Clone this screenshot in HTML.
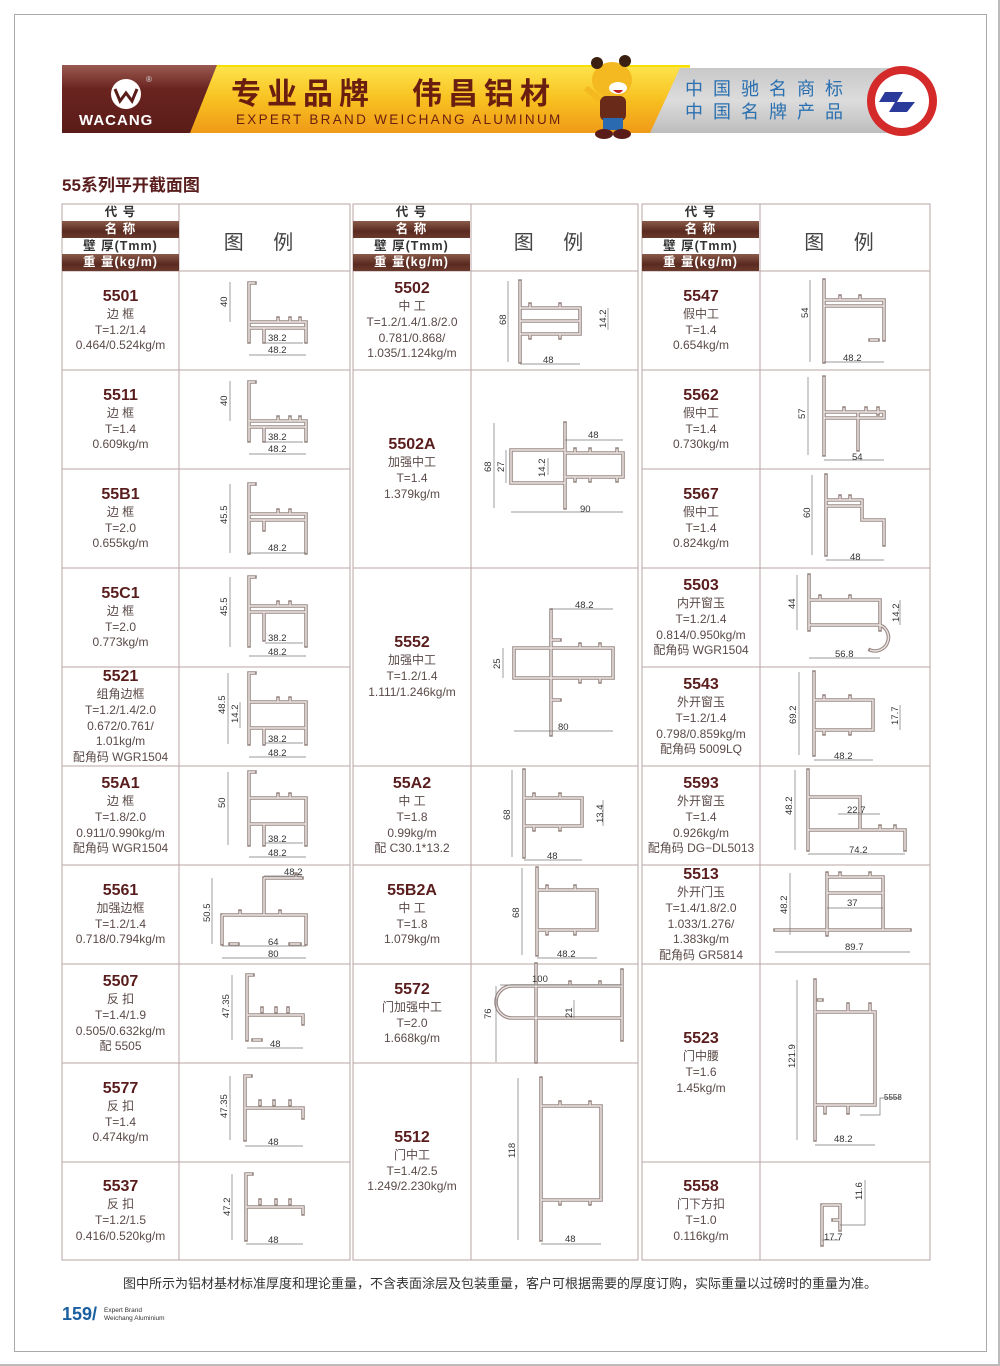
<!DOCTYPE html>
<html><head><meta charset="utf-8">
<style>
*{margin:0;padding:0;box-sizing:border-box}
body{width:1000px;height:1366px;position:relative;background:#fff;font-family:"Liberation Sans","Noto Sans CJK SC",sans-serif;overflow:hidden}
.a{position:absolute}
.cell{position:absolute;display:flex;flex-direction:column;justify-content:center;align-items:center;text-align:center;color:#5a4a48;font-size:12px;line-height:15.8px}
.cell b{font-size:16px;line-height:20px;color:#5a1d1d}
.hd{position:absolute;width:117px;font-weight:bold;font-size:12.5px;text-align:center;letter-spacing:1px;line-height:17px}
.dk{background:linear-gradient(#8a5a4a,#5a2a20 60%,#6a3a2e);color:#fff}
.lg{position:absolute;font-size:20px;color:#444;letter-spacing:12px;text-align:center}
svg text{font-family:"Liberation Sans",sans-serif;font-size:9.5px;fill:#333}
.p{stroke:#9a8a86;stroke-width:3.6;fill:none;stroke-linecap:square}
.q{stroke:#ece6e4;stroke-width:1.4;fill:none}
.d{stroke:#777;stroke-width:.7;fill:none}
.g{stroke:#b9a6a6;stroke-width:1;fill:none}
</style></head><body>
<div class="a" style="left:14px;top:14px;width:973px;height:1338px;border:1px solid #aaa"></div>
<div class="a" style="left:0;top:0;width:1000px;height:1366px;border:2px solid #bbb;border-top:none;border-left:none"></div>

<svg class="a" style="left:0;top:0" width="1000" height="150">
<defs>
<linearGradient id="yl" x1="0" y1="0" x2="0" y2="1"><stop offset="0" stop-color="#fde34a"/><stop offset=".5" stop-color="#f8c020"/><stop offset="1" stop-color="#ef9a18"/></linearGradient>
<linearGradient id="br" x1="0" y1="0" x2="0" y2="1"><stop offset="0" stop-color="#9a5a50"/><stop offset=".35" stop-color="#6a2420"/><stop offset="1" stop-color="#5a1c18"/></linearGradient>
<linearGradient id="gy" x1="0" y1="0" x2="0" y2="1"><stop offset="0" stop-color="#c8c8c8"/><stop offset=".5" stop-color="#dcdcdc"/><stop offset="1" stop-color="#bdbdbd"/></linearGradient>
</defs>
<rect x="200" y="65" width="490" height="5" fill="#f5e000"/>
<polygon points="180,67 690,67 660,133 150,133" fill="url(#yl)"/>
<polygon points="680,68 900,68 900,133 650,133" fill="url(#gy)"/>
<polygon points="62,65 217,65 190,133 62,133" fill="url(#br)"/>
<circle cx="126" cy="94" r="15" fill="#fff"/>
<path d="M115,89 l5,12 l6,-8 l6,8 l5,-12" stroke="#5a1c18" stroke-width="3" fill="none"/>
<text x="146" y="82" style="font-size:8px;fill:#ddd">®</text>
<text x="79" y="125" style="font-size:15px;fill:#fff;font-weight:bold;letter-spacing:1px">WACANG</text>
<text x="231" y="104" style="font-family:'Noto Sans CJK SC',sans-serif;font-size:30px;font-weight:bold;fill:#6a1e10;letter-spacing:6px">专业品牌</text>
<text x="412" y="104" style="font-family:'Noto Sans CJK SC',sans-serif;font-size:30px;font-weight:bold;fill:#6a1e10;letter-spacing:6px">伟昌铝材</text>
<text x="236" y="124" style="font-size:13.5px;fill:#6a1e10;letter-spacing:2.3px">EXPERT BRAND WEICHANG ALUMINUM</text>
<text x="685" y="95" style="font-family:'Noto Sans CJK SC',sans-serif;font-size:18px;fill:#2a70b0;letter-spacing:10px">中国驰名商标</text>
<text x="685" y="118" style="font-family:'Noto Sans CJK SC',sans-serif;font-size:18px;fill:#2a70b0;letter-spacing:10px">中国名牌产品</text>
<circle cx="902" cy="101" r="35" fill="#d42a2a"/><circle cx="902" cy="101" r="27" fill="#fff"/>
<path d="M885,92 h18 l-6,10 h18 l-8,10 h-18 l6,-10 h-16z" fill="#2a3a9a"/>
<ellipse cx="612" cy="80" rx="20" ry="18" fill="#f4b820"/><circle cx="597" cy="63" r="6" fill="#3a2010"/><circle cx="625" cy="61" r="6" fill="#3a2010"/>
<ellipse cx="618" cy="88" rx="9" ry="6" fill="#fff"/><path d="M613,90 q6,6 10,0" fill="#c02020"/>
<rect x="600" y="96" width="26" height="25" rx="6" fill="#6a2a1a"/><rect x="603" y="118" width="20" height="12" fill="#2a6ab0"/>
<ellipse cx="604" cy="134" rx="9" ry="5" fill="#5a1c18"/><ellipse cx="622" cy="134" rx="9" ry="5" fill="#5a1c18"/>
<path d="M600,100 l-14,-12" stroke="#f4b820" stroke-width="6"/>
</svg>

<div class="a" style="left:62px;top:171px;font-size:17px;font-weight:bold;color:#5a1d1d">55系列平开截面图</div>

<svg class="a" style="left:0;top:0" width="1000" height="1366">
<g class="g">
<rect x="62" y="204" width="288" height="1056"/><rect x="353" y="204" width="285" height="1056"/><rect x="642" y="204" width="288" height="1056"/>
<line x1="179" y1="204" x2="179" y2="1260"/><line x1="471" y1="204" x2="471" y2="1260"/><line x1="760" y1="204" x2="760" y2="1260"/>
<path d="M62,271H350M62,370H350M62,469H350M62,568H350M62,667H350M62,766H350M62,865H350M62,964H350M62,1063H350M62,1162H350"/>
<path d="M353,271H638M353,370H638M353,568H638M353,766H638M353,865H638M353,964H638M353,1063H638"/>
<path d="M642,271H930M642,370H930M642,469H930M642,568H930M642,667H930M642,766H930M642,865H930M642,964H930M642,1162H930"/>
</g>
<g class="p"><g id="pf">
<path d="M255,283H249V342M249,322H306V342M249,328H306M264,328V342M278,318v4M290,318v4M300,318v4"/>
<path d="M255,382H249V441M249,421H306V441M249,427H306M264,427V441M278,417v4M290,417v4M300,417v4"/>
<path d="M255,484H249V553M249,514H306V553M249,520H306M264,520V530M278,510v4M290,510v4"/>
<path d="M255,577H249V646M249,606H306V646M249,612H306M264,612V640M278,602v4M290,602v4"/>
<path d="M255,673H249V744M249,702H306V744M249,728H306M264,728V744M278,698v4M290,698v4"/>
<path d="M255,772H249V845M249,798H306V845M249,824H306M264,824V845M278,794v4M290,794v4"/>
<path d="M264,878V915M264,878H302M222,915H306V944M222,915V944M230,944h8M290,944h10M240,911v4M280,911v4M296,874v4"/>
<path d="M253,975H247V1040M247,1015H303V1024M262,1008v4M276,1008v4M288,1008v4M253,1040h8"/>
<path d="M251,1076H245V1140M245,1108H303V1118M260,1101v4M274,1101v4M290,1101v4"/>
<path d="M252,1174H246V1240M246,1207H303V1214M260,1200v4M276,1200v4M290,1200v4"/>
<path d="M520,281V362M520,308H580V334H520M520,321H580M530,304v4M560,304v4M530,334v4M560,334v4"/>
<path d="M565,423V508M511,450H565V483H511ZM565,453H623V477H565M575,449v4M590,449v4M617,449v4M575,477v4M590,477v4M617,477v4"/>
<path d="M551,610V735M514,648H613V678H514ZM551,640H560M551,700H560M580,644v4M600,644v4M580,678v4M600,678v4"/>
<path d="M524,770V857M524,798H582V826H524M534,794v4M560,794v4M534,826v4M560,826v4"/>
<path d="M537,868V955M537,890H597V930H537M547,886v4M575,886v4M547,930v4M575,930v4"/>
<path d="M622,986H512A16,16 0 0,0 512,1018H622M536,964V1062M622,970V1040M600,982v4M570,982v4"/>
<path d="M541,1078V1240M541,1106H601V1200H541M560,1102v4M590,1102v4M560,1200v4M590,1200v4"/>
<path d="M824,280V362M824,300H884V340M824,306H884M840,296v4M860,296v4M870,340h8"/>
<path d="M824,377V455M824,412H884V418H824M858,412V450M844,408v4M866,408v4M878,408v6"/>
<path d="M826,475V555M826,500H862V520H884V545M826,506H862M840,496v4M850,496v4"/>
<path d="M809,575V630M809,600H880V630M809,625H880A6,6 0 0,1 870,650M820,596v4M850,596v4"/>
<path d="M814,672V755M814,700H873V730H814M824,696v4M850,696v4M824,730v4M850,730v4"/>
<path d="M808,770V850M808,797H860V830H905V850M808,830H860M880,826v4M895,826v4"/>
<path d="M775,930H910M827,873V935M827,877H883V930M827,893H883M840,873v4M870,873v4"/>
<path d="M815,980V1140M815,1012H875V1105H815M848,1004v8M870,1004v8M825,1105v8M848,1105v8M818,1000h4"/>
<path d="M822,1205H840V1230M822,1205V1245M833,1220h7"/>
</g></g>
<g class="q"><use href="#pf"/></g>
<g class="d">
<path d="M230,282V322M265,343H303M249,355H306"/>
<path d="M230,381V421M265,442H303M249,454H306"/>
<path d="M230,484V553M249,553H306"/>
<path d="M230,577V647M265,643H303M249,656H306"/>
<path d="M228,673V744M240,702V728M265,743H303M249,757H306"/>
<path d="M228,772V845M265,843H303M249,857H306"/>
<path d="M212,878V944M264,876H302M222,946H306M222,958H306"/>
<path d="M232,975V1040M247,1048H303"/>
<path d="M230,1076V1140M245,1146H303"/>
<path d="M232,1174V1240M246,1244H303"/>
<path d="M508,281V362M520,364H580M608,308V330"/>
<path d="M494,423V508M506,450V483M548,458V475M565,440H623M511,512H623"/>
<path d="M503,648V678M551,609H613M514,731H613"/>
<path d="M512,770V857M603,800V826M524,860H582"/>
<path d="M522,868V955M537,958H597"/>
<path d="M500,985H622M496,986V1062M574,1000V1018"/>
<path d="M518,1078V1240M541,1244H601"/>
<path d="M810,280V362M824,362H884"/>
<path d="M808,377V455M824,460H884"/>
<path d="M812,475V555M826,560H884"/>
<path d="M797,575V630M900,600V625M809,658H880"/>
<path d="M799,672V755M900,705V730M814,760H873"/>
<path d="M795,770V850M838,814H880M808,854H905"/>
<path d="M790,873V935M827,908H883M775,952H910"/>
<path d="M797,980V1140M815,1145H875M860,1115H880V1098H900"/>
<path d="M865,1180V1225H840M822,1240H840"/>
</g>
<g>
<text transform="translate(227,307) rotate(-90)">40</text><text x="268" y="341">38.2</text><text x="268" y="353">48.2</text>
<text transform="translate(227,406) rotate(-90)">40</text><text x="268" y="440">38.2</text><text x="268" y="452">48.2</text>
<text transform="translate(227,524) rotate(-90)">45.5</text><text x="268" y="551">48.2</text>
<text transform="translate(227,616) rotate(-90)">45.5</text><text x="268" y="641">38.2</text><text x="268" y="655">48.2</text>
<text transform="translate(225,714) rotate(-90)">48.5</text><text transform="translate(238,723) rotate(-90)">14.2</text><text x="268" y="742">38.2</text><text x="268" y="756">48.2</text>
<text transform="translate(225,808) rotate(-90)">50</text><text x="268" y="842">38.2</text><text x="268" y="856">48.2</text>
<text transform="translate(210,922) rotate(-90)">50.5</text><text x="284" y="875">48.2</text><text x="268" y="945">64</text><text x="268" y="957">80</text>
<text transform="translate(229,1018) rotate(-90)">47.35</text><text x="270" y="1047">48</text>
<text transform="translate(227,1118) rotate(-90)">47.35</text><text x="268" y="1145">48</text>
<text transform="translate(230,1216) rotate(-90)">47.2</text><text x="268" y="1243">48</text>
<text transform="translate(506,325) rotate(-90)">68</text><text transform="translate(606,328) rotate(-90)">14.2</text><text x="543" y="363">48</text>
<text transform="translate(491,472) rotate(-90)">68</text><text transform="translate(504,472) rotate(-90)">27</text><text transform="translate(545,477) rotate(-90)">14.2</text><text x="588" y="438">48</text><text x="580" y="512">90</text>
<text transform="translate(500,669) rotate(-90)">25</text><text x="575" y="608">48.2</text><text x="558" y="730">80</text>
<text transform="translate(510,820) rotate(-90)">68</text><text transform="translate(603,823) rotate(-90)">13.4</text><text x="547" y="859">48</text>
<text transform="translate(519,918) rotate(-90)">68</text><text x="557" y="957">48.2</text>
<text x="532" y="982">100</text><text transform="translate(491,1019) rotate(-90)">76</text><text transform="translate(572,1018) rotate(-90)">21</text>
<text transform="translate(515,1158) rotate(-90)">118</text><text x="565" y="1242">48</text>
<text transform="translate(808,318) rotate(-90)">54</text><text x="843" y="361">48.2</text>
<text transform="translate(805,419) rotate(-90)">57</text><text x="852" y="460">54</text>
<text transform="translate(810,518) rotate(-90)">60</text><text x="850" y="560">48</text>
<text transform="translate(795,609) rotate(-90)">44</text><text transform="translate(899,622) rotate(-90)">14.2</text><text x="835" y="657">56.8</text>
<text transform="translate(796,724) rotate(-90)">69.2</text><text transform="translate(898,725) rotate(-90)">17.7</text><text x="834" y="759">48.2</text>
<text transform="translate(792,815) rotate(-90)">48.2</text><text x="847" y="813">22.7</text><text x="849" y="853">74.2</text>
<text transform="translate(787,914) rotate(-90)">48.2</text><text x="847" y="906">37</text><text x="845" y="950">89.7</text>
<text transform="translate(795,1068) rotate(-90)">121.9</text><text x="884" y="1100" style="font-size:8px">5558</text><text x="834" y="1142">48.2</text>
<text transform="translate(862,1200) rotate(-90)">11.6</text><text x="824" y="1240">17.7</text>
</g>
</svg>

<div class="hd" style="left:62px;top:204px;color:#333">代 号</div>
<div class="hd dk" style="left:62px;top:221px">名 称</div>
<div class="hd" style="left:62px;top:238px;color:#333">壁 厚(Tmm)</div>
<div class="hd dk" style="left:62px;top:254px">重 量(kg/m)</div>
<div class="lg" style="left:179px;top:226px;width:171px">图 例</div>
<div class="hd" style="left:353px;top:204px;color:#333">代 号</div>
<div class="hd dk" style="left:353px;top:221px">名 称</div>
<div class="hd" style="left:353px;top:238px;color:#333">壁 厚(Tmm)</div>
<div class="hd dk" style="left:353px;top:254px">重 量(kg/m)</div>
<div class="lg" style="left:471px;top:226px;width:167px">图 例</div>
<div class="hd" style="left:642px;top:204px;color:#333">代 号</div>
<div class="hd dk" style="left:642px;top:221px">名 称</div>
<div class="hd" style="left:642px;top:238px;color:#333">壁 厚(Tmm)</div>
<div class="hd dk" style="left:642px;top:254px">重 量(kg/m)</div>
<div class="lg" style="left:760px;top:226px;width:170px">图 例</div>

<div class="cell" style="left:62px;top:271px;width:117px;height:99px"><b>5501</b>边 框<br>T=1.2/1.4<br>0.464/0.524kg/m</div>
<div class="cell" style="left:62px;top:370px;width:117px;height:99px"><b>5511</b>边 框<br>T=1.4<br>0.609kg/m</div>
<div class="cell" style="left:62px;top:469px;width:117px;height:99px"><b>55B1</b>边 框<br>T=2.0<br>0.655kg/m</div>
<div class="cell" style="left:62px;top:568px;width:117px;height:99px"><b>55C1</b>边 框<br>T=2.0<br>0.773kg/m</div>
<div class="cell" style="left:62px;top:667px;width:117px;height:99px"><b>5521</b>组角边框<br>T=1.2/1.4/2.0<br>0.672/0.761/<br>1.01kg/m<br>配角码 WGR1504</div>
<div class="cell" style="left:62px;top:766px;width:117px;height:99px"><b>55A1</b>边 框<br>T=1.8/2.0<br>0.911/0.990kg/m<br>配角码 WGR1504</div>
<div class="cell" style="left:62px;top:865px;width:117px;height:99px"><b>5561</b>加强边框<br>T=1.2/1.4<br>0.718/0.794kg/m</div>
<div class="cell" style="left:62px;top:964px;width:117px;height:99px"><b>5507</b>反 扣<br>T=1.4/1.9<br>0.505/0.632kg/m<br>配 5505</div>
<div class="cell" style="left:62px;top:1063px;width:117px;height:99px"><b>5577</b>反 扣<br>T=1.4<br>0.474kg/m</div>
<div class="cell" style="left:62px;top:1162px;width:117px;height:98px"><b>5537</b>反 扣<br>T=1.2/1.5<br>0.416/0.520kg/m</div>
<div class="cell" style="left:353px;top:271px;width:118px;height:99px"><b>5502</b>中 工<br>T=1.2/1.4/1.8/2.0<br>0.781/0.868/<br>1.035/1.124kg/m</div>
<div class="cell" style="left:353px;top:370px;width:118px;height:198px"><b>5502A</b>加强中工<br>T=1.4<br>1.379kg/m</div>
<div class="cell" style="left:353px;top:568px;width:118px;height:198px"><b>5552</b>加强中工<br>T=1.2/1.4<br>1.111/1.246kg/m</div>
<div class="cell" style="left:353px;top:766px;width:118px;height:99px"><b>55A2</b>中 工<br>T=1.8<br>0.99kg/m<br>配 C30.1*13.2</div>
<div class="cell" style="left:353px;top:865px;width:118px;height:99px"><b>55B2A</b>中 工<br>T=1.8<br>1.079kg/m</div>
<div class="cell" style="left:353px;top:964px;width:118px;height:99px"><b>5572</b>门加强中工<br>T=2.0<br>1.668kg/m</div>
<div class="cell" style="left:353px;top:1063px;width:118px;height:197px"><b>5512</b>门中工<br>T=1.4/2.5<br>1.249/2.230kg/m</div>
<div class="cell" style="left:642px;top:271px;width:118px;height:99px"><b>5547</b>假中工<br>T=1.4<br>0.654kg/m</div>
<div class="cell" style="left:642px;top:370px;width:118px;height:99px"><b>5562</b>假中工<br>T=1.4<br>0.730kg/m</div>
<div class="cell" style="left:642px;top:469px;width:118px;height:99px"><b>5567</b>假中工<br>T=1.4<br>0.824kg/m</div>
<div class="cell" style="left:642px;top:568px;width:118px;height:99px"><b>5503</b>内开窗玉<br>T=1.2/1.4<br>0.814/0.950kg/m<br>配角码 WGR1504</div>
<div class="cell" style="left:642px;top:667px;width:118px;height:99px"><b>5543</b>外开窗玉<br>T=1.2/1.4<br>0.798/0.859kg/m<br>配角码 5009LQ</div>
<div class="cell" style="left:642px;top:766px;width:118px;height:99px"><b>5593</b>外开窗玉<br>T=1.4<br>0.926kg/m<br>配角码 DG−DL5013</div>
<div class="cell" style="left:642px;top:865px;width:118px;height:99px"><b>5513</b>外开门玉<br>T=1.4/1.8/2.0<br>1.033/1.276/<br>1.383kg/m<br>配角码 GR5814</div>
<div class="cell" style="left:642px;top:964px;width:118px;height:198px"><b>5523</b>门中腰<br>T=1.6<br>1.45kg/m</div>
<div class="cell" style="left:642px;top:1162px;width:118px;height:98px"><b>5558</b>门下方扣<br>T=1.0<br>0.116kg/m</div>

<div class="a" style="left:0;top:1273px;width:1000px;text-align:center;font-size:13px;color:#333">图中所示为铝材基材标准厚度和理论重量，不含表面涂层及包装重量，客户可根据需要的厚度订购，实际重量以过磅时的重量为准。</div>
<div class="a" style="left:62px;top:1304px;font-size:18px;font-weight:bold;color:#1a5fa0">159/</div>
<div class="a" style="left:104px;top:1307px;font-size:6.5px;line-height:8px;color:#333">Expert Brand<br>Weichang Aluminium</div>
</body></html>
